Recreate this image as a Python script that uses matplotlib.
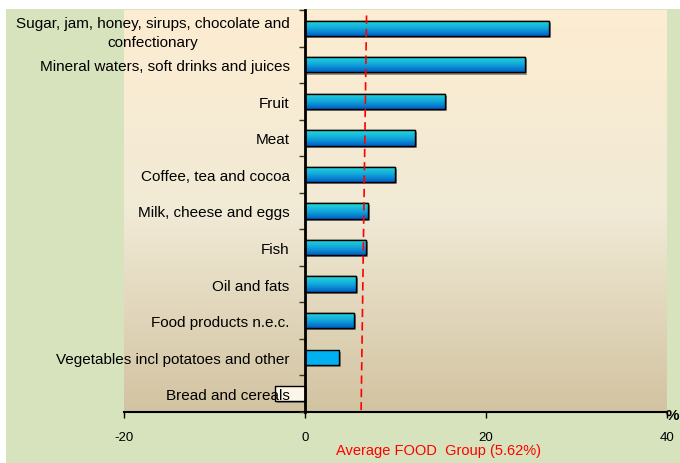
import numpy as np
import matplotlib.pyplot as plt
import matplotlib.patheffects as pe
from matplotlib.colors import LinearSegmentedColormap
from matplotlib.patches import Rectangle

plt.rcParams['font.family'] = ['Liberation Sans', 'DejaVu Sans']

# Data (top to bottom, as in the chart)
categories = ["Sugar, jam, honey, sirups, chocolate and\nconfectionary",
              "Mineral waters, soft drinks and juices",
              "Fruit",
              "Meat",
              "Coffee, tea and cocoa",
              "Milk, cheese and eggs",
              "Fish",
              "Oil and fats",
              "Food products n.e.c.",
              "Vegetables incl potatoes and other",
              "Bread and cereals"]
values = [27.0, 24.3, 15.5, 12.1, 9.9, 7.0, 6.7, 5.6, 5.4, 3.8, -3.3]
x_ticks = [-20, 0, 20, 40]
avg_label = "Average FOOD  Group (5.62%)"
avg_line_x = [6.8, 6.2]   # the reference line is drawn slightly slanted
solid_category = "Vegetables incl potatoes and other"

fig = plt.figure(figsize=(6.8, 4.64), dpi=100, facecolor='white')
# green chart area (white strip on top and left)
fig.add_artist(Rectangle((6/680, 0), 1, 1 - 10/464, transform=fig.transFigure,
                         facecolor='#D7E3BD', edgecolor='none', zorder=-10))

ax = fig.add_axes([124/680, 1 - 413/464, (667 - 124)/680, (413 - 11)/464])
ax.set_facecolor('none')
ax.set_axisbelow(False)  # tick labels drawn over the negative bar

# plot area gradient background
bg_cmap = LinearSegmentedColormap.from_list('bg', [(0, '#FDEDD1'), (0.5, '#F1EAD6'), (1, '#D2C3A1')])
bg = np.linspace(0, 1, 256).reshape(-1, 1)
ax.imshow(bg, cmap=bg_cmap, extent=(0, 1, 0, 1), transform=ax.transAxes,
          aspect='auto', origin='upper', zorder=0)

y = np.arange(len(categories))
h = 0.42
bar_cmap = LinearSegmentedColormap.from_list('bar', ['#24DCD6', '#12A8DC', '#0060C4'])
grad = bar_cmap(np.linspace(0, 1, 64)).reshape(-1, 1, 4)

shadow = [pe.SimplePatchShadow(offset=(1.5, -1.5), shadow_rgbFace='#555555', alpha=0.6), pe.Normal()]
for yi, v, cat in zip(y, values, categories):
    if v < 0:
        fc = '#FBF6E8'
    elif cat == solid_category:
        fc = '#00B0F0'
    else:
        fc = '#12A8DC'
    base = ax.barh(yi, v, height=h, color=fc, edgecolor='black', linewidth=1.0, zorder=2)[0]
    base.set_path_effects(shadow)
    if v > 0 and cat != solid_category:
        im = ax.imshow(grad, extent=(0, v, yi + h/2, yi - h/2), origin='upper',
                       aspect='auto', zorder=3)
        im.set_clip_path(base)
        ax.barh(yi, v, height=h, color='none', edgecolor='black', linewidth=1.0, zorder=4)

# average reference line
ax.plot(avg_line_x, [-0.35, 10.45], color='#FF0000', linestyle=(0, (5, 3)), linewidth=1.2, zorder=5)

ax.set_xlim(-20, 40)
ax.set_ylim(len(categories) - 0.5, -0.5)

# axes styling
for s in ['top', 'right']:
    ax.spines[s].set_visible(False)
ax.spines['left'].set_position(('data', 0))
ax.spines['left'].set_linewidth(2)
ax.spines['left'].set_zorder(6)
ax.spines['bottom'].set_linewidth(1.5)

ax.set_xticks(x_ticks)
ax.set_xticklabels([str(t) for t in x_ticks], fontsize=9.5)
ax.tick_params(axis='x', direction='out', length=4, width=1, pad=10, colors='black')

ax.set_yticks(y)
ax.set_yticklabels(categories, fontsize=11)
ax.tick_params(axis='y', which='major', length=0, pad=11)
for lbl in ax.get_yticklabels():
    lbl.set_multialignment('center')
    lbl.set_linespacing(1.45)
ax.set_yticks(np.arange(len(categories) + 1) - 0.5, minor=True)
ax.tick_params(axis='y', which='minor', direction='out', length=4, width=1, color='#333333')

fig.text(672/680, 1 - 416/464, '%', fontsize=11, fontweight='bold', ha='center', va='center')
fig.text(439/680, 1 - 451/464, avg_label, fontsize=10.5, color='#FF0000', ha='center', va='center')

fig.savefig('out.png', dpi=100)
